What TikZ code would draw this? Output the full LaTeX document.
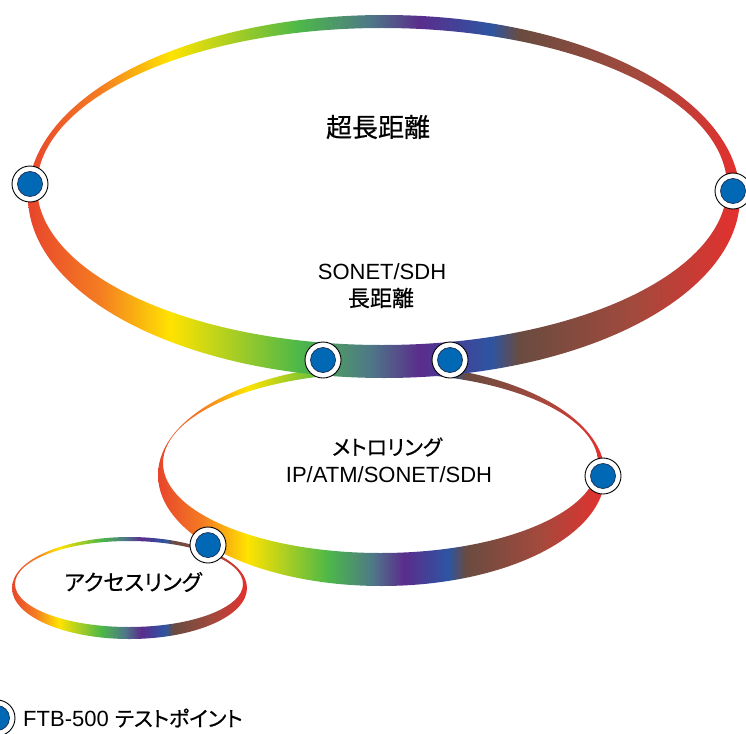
\documentclass[tikz,border=0pt]{standalone}
\usepackage{fontspec}
\setmainfont{Liberation Sans}
\newfontfamily\jp[RawFeature=+palt, FakeBold=0.6]{Noto Sans CJK JP}
\definecolor{c0}{HTML}{E8452C}
\definecolor{c1}{HTML}{F47C22}
\definecolor{c2}{HTML}{FFE300}
\definecolor{c3}{HTML}{4DB848}
\definecolor{c4}{HTML}{4E7887}
\definecolor{c5}{HTML}{5A2D8C}
\definecolor{c6}{HTML}{2D55A2}
\definecolor{c7}{HTML}{6A4B40}
\definecolor{c8}{HTML}{A24A3D}
\definecolor{c9}{HTML}{E5302E}
\definecolor{tpblue}{HTML}{0068B5}
\definecolor{tpline}{HTML}{1B2F55}
\pgfdeclarehorizontalshading{rainbowring}{100bp}{color(0bp)=(c0); color(25bp)=(c0); color(30bp)=(c1); color(35bp)=(c2); color(44bp)=(c3); color(49bp)=(c4); color(52.5bp)=(c5); color(57.5bp)=(c6); color(59.5bp)=(c7); color(67.5bp)=(c8); color(75bp)=(c9); color(100bp)=(c9)}
\tikzset{
  ring/.style={shading=rainbowring, even odd rule},
  tpo/.style={circle, minimum size=36pt, inner sep=0pt, fill=white, draw=black, line width=0.9pt},
  tpi/.style={circle, minimum size=25pt, inner sep=0pt, fill=tpblue, draw=tpline, line width=0.7pt},
  lbl/.style={inner sep=0pt, align=center, text=black},
}
\begin{document}
\begin{tikzpicture}[x=1pt, y=-1pt]
\useasboundingbox (0,0) rectangle (746,733);
\clip (0,0) rectangle (746,733);
% access ring
\shade[ring] (129.5,588) ellipse [x radius=117.5pt, y radius=51pt] (129,584) ellipse [x radius=114pt, y radius=43pt];
% metro ring
\shade[ring] (381.5,475) ellipse [x radius=223.5pt, y radius=111pt] (380.5,463) ellipse [x radius=217.5pt, y radius=90pt];
% long haul ring
\shade[ring] (384,196.5) ellipse [x radius=356pt, y radius=181.5pt] (382,186.5) ellipse [x radius=345pt, y radius=158.5pt];
% test points
\foreach \n/\p in {a/{(30,184)}, b/{(733,191)}, c/{(323,360)}, d/{(450,360)}, e/{(603,476)}, f/{(208,545)}, g/{(-3,718)}} {
  \node[tpo] (tp\n) at \p {};
  \node[tpi] (tp\n i) at (tp\n) {};
}
% labels
\node[lbl] (t1) at (378,127) {\jp\fontsize{26}{30}\selectfont 超長距離};
\node[lbl] (t2) at (382,272) {\fontsize{22}{26}\selectfont SONET/SDH};
\node[lbl] (t3) at (381,298) {\jp\fontsize{22}{26}\selectfont 長距離};
\node[lbl] (t4) at (387,447) {\jp\fontsize{21}{26}\selectfont メトロリング};
\node[lbl] (t5) at (389,475) {\fontsize{22}{26}\selectfont IP/ATM/SONET/SDH};
\node[lbl] (t6) at (133,582) {\jp\fontsize{22}{26}\selectfont アクセスリング};
\node[lbl, anchor=west] (t7) at (23,718) {\fontsize{22}{26}\selectfont FTB-500 {\jp\fontsize{21}{26}\selectfont テストポイント}};
\end{tikzpicture}
\end{document}
